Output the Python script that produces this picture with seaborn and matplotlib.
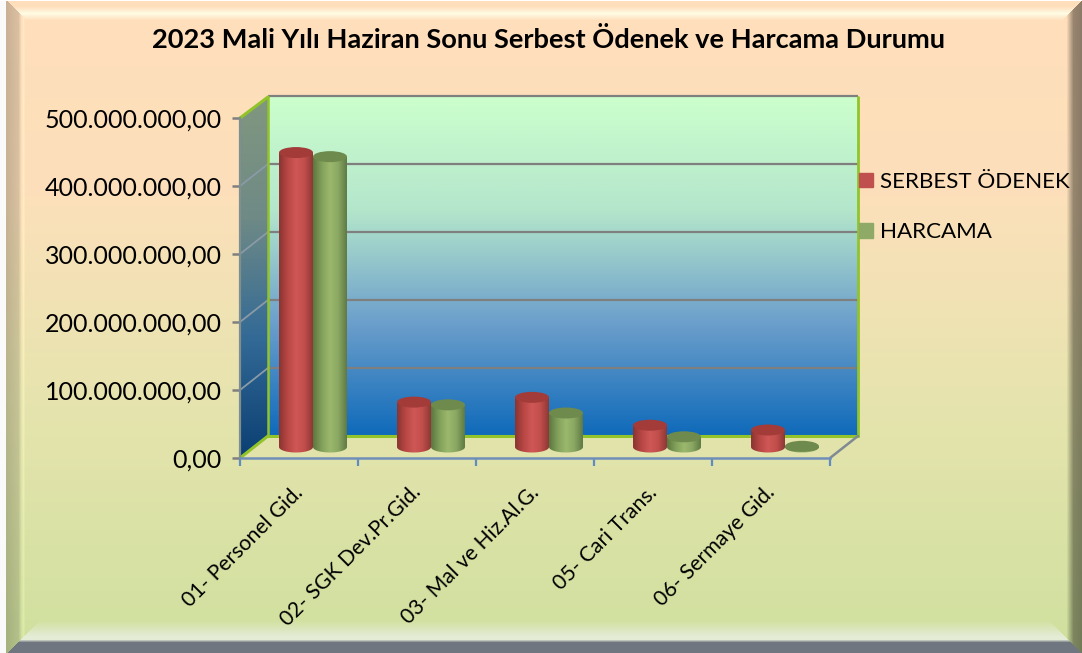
import numpy as np
import pandas as pd
import seaborn as sns
import matplotlib
matplotlib.use("Agg")
import matplotlib.pyplot as plt
from matplotlib.colors import LinearSegmentedColormap
from matplotlib.patches import Ellipse, PathPatch, Patch, Polygon
from matplotlib.path import Path
from matplotlib.transforms import ScaledTranslation

# values
kalemler = ["01- Personel Gid.", "02- SGK Dev.Pr.Gid.", "03- Mal ve Hiz.Al.G.", "05- Cari Trans.", "06- Sermaye Gid."]
serbest_odenek = [433e6, 66e6, 73e6, 32e6, 25e6]
harcama = [427e6, 62e6, 50e6, 15e6, 1e6]
y_ticks = [0, 100e6, 200e6, 300e6, 400e6, 500e6]
y_labels = ["0,00", "100.000.000,00", "200.000.000,00", "300.000.000,00", "400.000.000,00", "500.000.000,00"]
seriler = ["SERBEST ÖDENEK", "HARCAMA"]
baslik = "2023 Mali Yılı Haziran Sonu Serbest Ödenek ve Harcama Durumu"

sns.set_theme(style="white")
plt.rcParams["font.family"] = ["Lato", "DejaVu Sans"]
plt.rcParams["text.color"] = "black"

W, H = 1082, 653
Y_MAX = 500e6

# plot box in pixels
FX0, FX1 = 240, 830      # front floor edge
FY0, FY1 = 458, 118      # front axis, 0 and 500M
DX, DY = 28, 22          # depth of the box
MX, MY = 14, 11          # cylinders stand half way in
CAP_PX = 11
PAD = 10                 # room under the cylinders for the rounded foot


def px_axes(fig, x0, x1, y0, y1, **kw):
    # axes from pixel rectangle, y counted from the top
    return fig.add_axes([x0 / W, 1 - y0 / H, (x1 - x0) / W, (y0 - y1) / H], **kw)


def background():
    # vertical fill plus the bevelled frame
    ys = np.linspace(0, 1, H)
    stops = np.array([[255, 222, 188], [252, 224, 186], [230, 228, 174], [207, 224, 158]], float)
    pos = [0, 0.3, 0.62, 1]
    base = np.stack([np.interp(ys, pos, stops[:, i]) for i in range(3)], axis=1)
    img = np.repeat(base[:, None, :], W, axis=1)
    yy, xx = np.mgrid[0:H, 0:W]
    dl, dr, dt, db = xx - 7.0, W - 1.0 - xx, yy - 1.0, H - 1.0 - yy
    near = np.argmin(np.stack([dl, dr, dt, db]), axis=0)

    # top light band
    m = (near == 2) & (dt < 22)
    t = np.clip(1 - np.abs(dt - 12) / 7, 0, 1)
    hi = np.array([255, 252, 228.0])
    img[m] = img[m] * (1 - t[m, None]) + hi * t[m, None]
    # left tan band with a light strip on its inner side
    m = (near == 0) & (dl < 18)
    f = np.interp(dl, [0, 11, 14, 16, 18], [0.8, 0.86, 1.0, 1.05, 1.0])
    img[m] = np.minimum(img[m] * f[m, None], 255)
    # bottom light band then dark band
    m = (near == 3) & (db < 32)
    t = np.clip((32 - db) / 16, 0, 1)
    hi = np.array([228, 236, 214.0])
    img[m] = img[m] * (1 - t[m, None]) + hi * t[m, None]
    m = (near == 3) & (db < 13)
    dark = np.array([112, 118, 128.0])
    t = np.clip((13 - db) / 3, 0, 1)
    img[m] = img[m] * (1 - t[m, None]) + dark * t[m, None]
    # right dark band
    m = (near == 1) & (dr < 15)
    f = np.interp(dr, [0, 8, 15], [0.55, 0.6, 1.0])
    img[m] = img[m] * f[m, None]
    # white margin on the left and top of the screenshot
    img[:, :6] = 250
    img[0, :] = 255
    return img.astype(np.uint8)


fig = plt.figure(figsize=(W / 100, H / 100), dpi=100)

# background layer, pixel coordinates
bg = fig.add_axes([0, 0, 1, 1], zorder=0)
bg.imshow(background(), extent=(0, W, H, 0), aspect="auto", interpolation="bilinear")
bg.set_xlim(0, W)
bg.set_ylim(H, 0)
bg.axis("off")

BX0, BX1 = FX0 + DX, FX1 + DX
BY0, BY1 = FY0 - DY, FY1 - DY + 1

wall_cm = LinearSegmentedColormap.from_list("wall", ["#CCFFCC", "#B4E6CC", "#6C9FCB", "#0F6ABA"])
side_cm = LinearSegmentedColormap.from_list("side", ["#80977F", "#6F8A86", "#336A96", "#0B3F73"])
grad = np.linspace(0, 1, 256)[:, None]
bg.imshow(grad, cmap=wall_cm, extent=(BX0, BX1, BY0, BY1), aspect="auto")
side = bg.imshow(grad, cmap=side_cm, extent=(FX0, BX0, FY0, BY1), aspect="auto")
side_poly = Polygon([(FX0, FY0), (BX0, BY0), (BX0, BY1), (FX0, FY1)], closed=True, transform=bg.transData, fc="none", ec="none")
bg.add_patch(side_poly)
side.set_clip_path(side_poly)
bg.set_xlim(0, W)
bg.set_ylim(H, 0)

# grid on back wall and side wall
scale = (FY0 - FY1) / Y_MAX
for v in y_ticks[1:]:
    yb = BY0 - v * scale
    yf = FY0 - v * scale
    bg.plot([BX0, BX1], [yb, yb], color="#7F7F7F", lw=1.6, solid_capstyle="butt")
    if v < Y_MAX:
        bg.plot([FX0, BX0], [yf, yb], color="#8A9AA6", lw=1.3)

# green edges of the box
verde = "#92C32A"
bg.plot([BX0, BX1], [BY0, BY0], color=verde, lw=2.2)
bg.plot([BX1, BX1], [BY0, BY1], color=verde, lw=2.0)
bg.plot([BX0, BX0], [BY0, BY1], color=verde, lw=1.8)
bg.plot([FX0, BX0], [FY1, BY1], color=verde, lw=2.2)
bg.plot([FX0, BX0], [FY0, BY0], color=verde, lw=2.2)
bg.plot([FX1, BX1], [FY0, BY0], color="#7F8A92", lw=1.8)

# front axis: ticks, labels
front = px_axes(fig, FX0, FX1, FY0, FY1, zorder=1)
front.patch.set_alpha(0)
front.set_xlim(-0.5, 4.5)
front.set_ylim(0, Y_MAX)
front.set_yticks(y_ticks)
front.set_yticklabels(y_labels, fontsize=18, color="black")
front.tick_params(axis="y", left=True, length=6, width=1.8, color="#7F7F7F", pad=7)
front.set_xticks(range(len(kalemler)))
front.set_xticklabels(kalemler, rotation=45, ha="right", rotation_mode="anchor", fontsize=15.2, color="black")
front.tick_params(axis="x", which="major", bottom=False, pad=15)
kay = ScaledTranslation(-6 / 100, 5 / 100, fig.dpi_scale_trans)
for lab in front.get_xticklabels():
    lab.set_transform(lab.get_transform() + kay)
front.set_xticks(np.arange(-0.5, 5), minor=True)
front.tick_params(axis="x", which="minor", bottom=True, length=5.5, width=1.6, color="#5F8CC4")
sns.despine(ax=front, top=True, right=True)
front.spines["left"].set_color("#7F8F8F")
front.spines["left"].set_linewidth(1.6)
front.spines["bottom"].set_color("#6F8FB8")
front.spines["bottom"].set_linewidth(1.8)

# cylinders: seaborn bars on an axes shifted half way into the box
ax = px_axes(fig, FX0 + MX, FX1 + MX, FY0 - MY + PAD, FY1 - MY, zorder=2)
ax.patch.set_alpha(0)
df = pd.DataFrame({
    "kalem": kalemler * 2,
    "seri": [seriler[0]] * len(kalemler) + [seriler[1]] * len(kalemler),
    "deger": serbest_odenek + harcama,
})
renkler = {seriler[0]: "#C0504D", seriler[1]: "#9BBB59"}
sns.barplot(data=df, x="kalem", y="deger", hue="seri", order=kalemler, hue_order=seriler,
            palette=renkler, width=0.576, gap=0, legend=False, ax=ax, saturation=1)
ax.axis("off")

govde = [["#8A3532", "#B84744", "#CF5856", "#C24E4B", "#8E3836"],
         ["#5D7840", "#81A05A", "#9CB86E", "#8AA862", "#5F7A44"]]
kapak = ["#A33B39", "#6E8A4C"]
ry = CAP_PX / 2 / scale

for k, bars in enumerate(ax.containers):
    cm = LinearSegmentedColormap.from_list("g%d" % k, govde[k])
    for bar in bars:
        x, w, h = bar.get_x(), bar.get_width(), bar.get_height()
        bar.set_visible(False)
        # outline of the body with its rounded foot
        th = np.linspace(np.pi, 2 * np.pi, 40)
        foot = np.column_stack([x + w / 2 + w / 2 * np.cos(th), ry * np.sin(th)])
        verts = np.vstack([[[x, h]], foot, [[x + w, h]], [[x, h]]])
        clip = PathPatch(Path(verts), transform=ax.transData, fc="none", ec="none")
        ax.add_patch(clip)
        im = ax.imshow(np.linspace(0, 1, 64)[None, :], cmap=cm, extent=(x, x + w, -ry, h),
                       aspect="auto", zorder=3 + k, interpolation="bilinear")
        im.set_clip_path(clip)
        ax.add_patch(Ellipse((x + w / 2, h), w, 2 * ry, fc=kapak[k], ec="none", zorder=3 + k))

ax.set_xlim(-0.5, 4.5)
ax.set_ylim(-PAD / scale, Y_MAX)

# title and legend
fig.text(548 / W, 1 - 39 / H, baslik, ha="center", va="center", fontsize=19.6, fontweight="bold", color="black")
handles = [Patch(color="#C0504D", label=seriler[0]), Patch(color="#8FAA66", label=seriler[1])]
leg = fig.legend(handles=handles, loc="upper left", bbox_to_anchor=(852 / W, 1 - 165 / H), frameon=False,
                 fontsize=16.1, handlelength=0.625, handleheight=0.625, handletextpad=0.32,
                 labelspacing=1.36, borderpad=0.3, borderaxespad=0, labelcolor="black")
leg.set_zorder(5)

fig.savefig("out.png", dpi=100)
